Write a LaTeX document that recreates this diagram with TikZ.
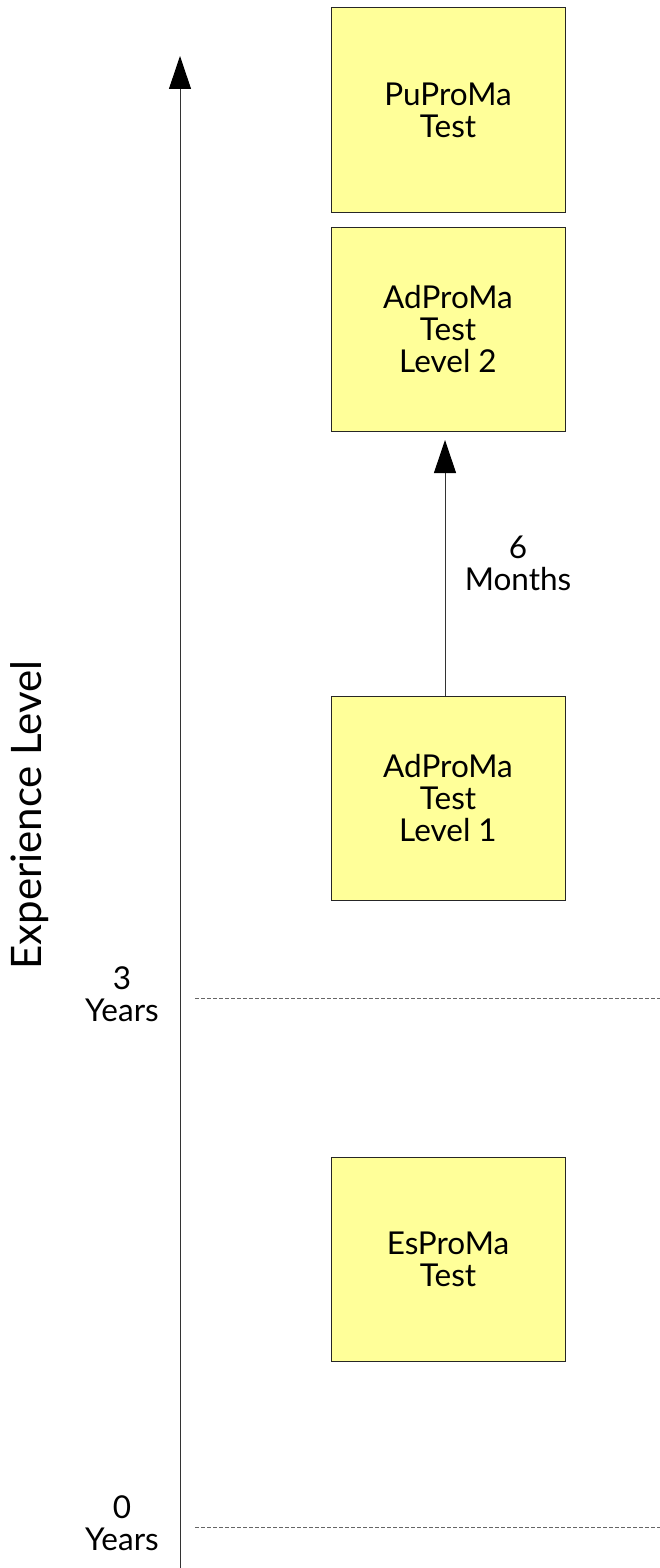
\documentclass[tikz,border=0pt]{standalone}
\usepackage{fontspec}
\setmainfont{Lato}
\usetikzlibrary{arrows.meta}
\definecolor{boxfill}{HTML}{FFFF99}
\definecolor{axisgray}{HTML}{333333}
\begin{document}
\begin{tikzpicture}[x=1pt,y=-1pt,
  card/.style={draw=black!85,fill=boxfill,line width=1pt,minimum width=234pt,minimum height=204pt,inner sep=0pt,align=center,font=\fontsize{31.5}{32}\selectfont},
  lbl/.style={align=center,font=\fontsize{31.5}{32}\selectfont,inner sep=0pt},
  tip/.style={-{Triangle[length=33pt,width=22pt,color=black]}},
  guide/.style={draw=black!60,line width=1pt,dash pattern=on 4pt off 2pt}]
\useasboundingbox (0,0) rectangle (660,1568);
\node[card] (pu) at (448,110) {PuProMa\\Test};
\node[card] (ad2) at (448,329.5) {AdProMa\\Test\\Level 2};
\node[card] (ad1) at (448,798) {AdProMa\\Test\\Level 1};
\node[card] (es) at (448,1259.5) {EsProMa\\Test};
\coordinate (axb) at (180,1568);
\coordinate (axt) at (180,56);
\draw[tip,draw=axisgray,line width=1pt] (axb) -- (axt);
\coordinate (a2) at (445,440);
\draw[tip,draw=axisgray,line width=1pt] (ad1.north -| a2) -- (a2);
\node[lbl] (six) at (518,563) {6\\Months};
\node[lbl] (y3) at (122,994) {3\\Years};
\node[lbl] (y0) at (122,1523) {0\\Years};
\coordinate (d3a) at (195,998);
\coordinate (d3b) at (660,998);
\coordinate (d0a) at (195,1527);
\coordinate (d0b) at (660,1527);
\draw[guide] (d3a) -- (d3b);
\draw[guide] (d0a) -- (d0b);
\node[rotate=90,font=\fontsize{42}{48}\selectfont,inner sep=0pt] (exp) at (30,815) {Experience Level};
\end{tikzpicture}
\end{document}
